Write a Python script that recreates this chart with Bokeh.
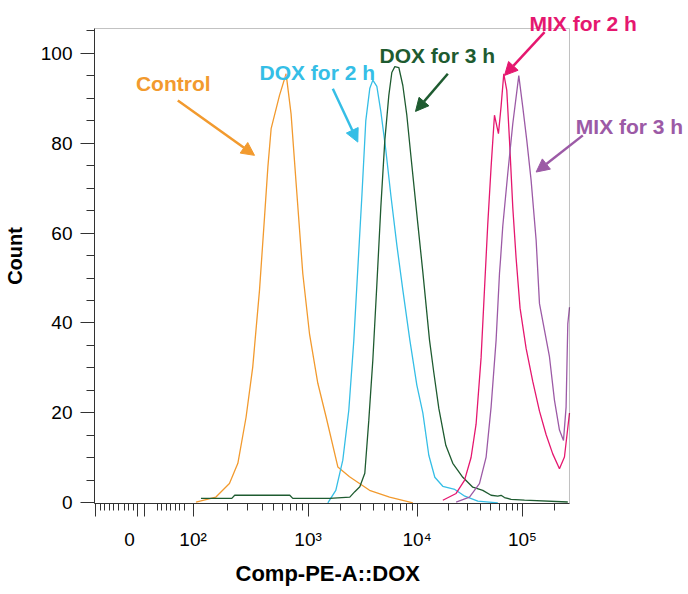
import numpy as np
from bokeh.plotting import figure
from bokeh.models import (Range1d, FixedTicker, CustomJSTickFormatter, Label,
                          Arrow, NormalHead, LinearAxis, BoxAnnotation, Title)
from bokeh.embed import file_html
from bokeh.resources import INLINE

# ---------------- data (fluorescence intensity, count) ----------------
CONTROL_X = [106, 158, 207, 245, 289, 330, 378, 418, 447, 477, 564, 644, 711,
             787, 899, 1030, 1228, 1463, 1874, 2399, 3661, 5590, 9140]
CONTROL_Y = [0.2, 1.3, 4.3, 8.8, 19.1, 30.2, 47.3, 63.6, 74.7, 83.2, 90.6, 95.4,
             86.5, 71.0, 51.0, 37.6, 26.6, 19.1, 8.0, 5.8, 2.8, 1.3, 0.0]

DOX2_X = [1517, 1795, 2081, 2362, 2624, 2856, 3110, 3383, 3683, 3925, 4272, 4648,
          5164, 5741, 6517, 7398, 8576, 9940, 11330, 12910, 14720, 17530, 22800,
          28370, 37700, 58400]
DOX2_Y = [0.0, 2.8, 9.5, 20.6, 36.0, 52.0, 68.0, 85.0, 92.2, 94.0, 92.6, 87.0,
          78.4, 68.4, 57.3, 47.3, 36.2, 26.2, 20.0, 10.6, 5.7, 3.7, 3.0, 1.5, 0.4, 0.0]

DOX3_X = [117, 164, 217, 230, 693, 736, 1581, 2413, 2682, 2981, 3312, 3605, 3923,
          4269, 4645, 5055, 5501, 5861, 6244, 6795, 7394, 8045, 8755, 10150, 11330,
          13110, 14400, 16070, 18720, 21810, 27140, 33770, 42010, 50370, 58310,
          62660, 67480, 77970, 104500, 269000]
DOX3_Y = [1.0, 1.0, 1.0, 1.7, 1.7, 1.0, 1.0, 1.3, 2.5, 3.6, 6.6, 18.4, 31.7,
          48.4, 65.7, 80.6, 90.6, 95.7, 97.0, 96.8, 92.8, 86.2, 77.3, 62.1, 51.3,
          36.2, 29.0, 21.0, 12.8, 8.8, 5.7, 3.5, 2.8, 1.7, 1.5, 1.7, 1.2, 0.8, 0.6, 0.2]

MIX2_X = [17540, 23440, 28160, 32520, 36280, 40480, 43560, 46870, 50370, 54230,
          59150, 62640, 66470, 70990, 75330, 80930, 86970, 94910, 108200, 125200,
          145000, 167400, 193700, 224300, 250100, 279200]
MIX2_Y = [0.6, 2.1, 5.0, 10.1, 17.5, 32.3, 47.3, 62.1, 74.7, 86.2, 82.1, 88.1,
          95.4, 91.7, 80.6, 65.7, 54.5, 43.3, 34.4, 27.0, 20.4, 15.2, 10.9, 7.6,
          10.2, 20.0]

MIX3_X = [23440, 31410, 39060, 45190, 50370, 56210, 60550, 61860, 65020, 72560,
          80930, 92290, 100700, 109900, 120800, 134800, 145000, 161700, 180300,
          201200, 224300, 245000, 259200, 269100, 279200]
MIX3_Y = [0.2, 1.3, 4.3, 10.2, 21.3, 36.2, 51.1, 54.0, 61.5, 73.3, 84.3, 95.0,
          88.0, 80.6, 71.7, 58.4, 44.3, 38.4, 32.5, 22.8, 16.2, 13.9, 21.3, 39.8, 43.5]

SERIES_NAMES = ["Control", "DOX for 2 h", "DOX for 3 h", "MIX for 2 h", "MIX for 3 h"]
X_TICK_LABELS = ["0", "10²", "10³", "10⁴", "10⁵"]
Y_TICKS = [0, 20, 40, 60, 80, 100]
X_TITLE = "Comp-PE-A::DOX"
Y_TITLE = "Count"

# ---------------- axis scale (biexponential-like display) ----------------
DECADE_EXP = [2, 3, 4, 5]
DECADE_POS = [2.0, 3.0, 3.948, 4.864]   # display units of each decade
TOP_SLOPE = 0.917


def to_axis(v):
    lv = np.log10(np.asarray(v, dtype=float))
    pos = np.interp(lv, DECADE_EXP, DECADE_POS)
    hi = lv > 5
    pos[hi] = DECADE_POS[-1] + (lv[hi] - 5) * TOP_SLOPE
    lo = lv < 2
    pos[lo] = DECADE_POS[0] + (lv[lo] - 2)
    return pos


X_START, X_END = 1.1426, 5.273        # plotted box (axis extent)
Y_START, Y_END = -0.13, 105.47
X_VIEW_END, Y_VIEW_END = 6.2904, 109.92   # extra room for the call-outs
ZERO_POS = 1.447
LOW_MAJOR = [1.154, 1.519, 1.577]
LOW_MINOR = [1.195, 1.230, 1.270, 1.310, 1.351, 1.403, 1.438, 1.478,
             1.687, 1.728, 1.769, 1.803, 1.843, 1.884, 1.925]
log_minor = [m * 10 ** n for n in (2, 3, 4) for m in range(2, 10)] + [2e5]
x_major = LOW_MAJOR + DECADE_POS
x_minor = LOW_MINOR + list(to_axis(log_minor))

FONT = "Liberation Sans"
AXIS_COLOR = "#333333"

p = figure(frame_width=592, frame_height=495,
           x_range=Range1d(X_START, X_VIEW_END), y_range=Range1d(Y_START, Y_VIEW_END),
           output_backend="svg", toolbar_location=None,
           min_border_left=84, min_border_top=8, min_border_right=0,
           min_border_bottom=70)
p.grid.visible = False
p.outline_line_color = None
p.background_fill_color = "white"
p.border_fill_color = "white"

# box around the data area
p.add_layout(BoxAnnotation(left=X_START, right=X_END, bottom=Y_START, top=Y_END,
                           fill_color=None, line_color=AXIS_COLOR, line_width=1))

# x axis 1: ticks only
xa = p.xaxis[0]
xa.bounds = (X_START, X_END)
xa.ticker = FixedTicker(ticks=x_major, minor_ticks=x_minor)
xa.formatter = CustomJSTickFormatter(code="return '';")
xa.major_tick_out = 13
xa.major_tick_in = 0
xa.minor_tick_out = 7
xa.minor_tick_in = 0
xa.major_label_standoff = 0
xa.axis_line_color = AXIS_COLOR
xa.major_tick_line_color = AXIS_COLOR
xa.minor_tick_line_color = AXIS_COLOR

# x axis 2: labels only
label_ticks = [ZERO_POS] + DECADE_POS
xl = LinearAxis(
    bounds=(X_START, X_END),
    ticker=FixedTicker(ticks=label_ticks, minor_ticks=[]),
    formatter=CustomJSTickFormatter(
        args=dict(pos=label_ticks, labs=X_TICK_LABELS),
        code="""
for (let i = 0; i < pos.length; i++) {
  if (Math.abs(tick - pos[i]) < 1e-6) { return labs[i]; }
}
return "";
"""),
    axis_line_color=None, major_tick_line_color=None, minor_tick_line_color=None,
    major_tick_out=0, major_tick_in=0, minor_tick_out=0, minor_tick_in=0,
    major_label_text_font=FONT, major_label_text_font_size="19px",
    major_label_text_color="black", major_label_standoff=12)
p.add_layout(xl, "below")

# x title under the box (offset from the left edge of the box)
p.add_layout(Title(text=X_TITLE, align="left", offset=141, text_font=FONT,
                   text_font_size="22px", text_font_style="bold",
                   text_color="black", standoff=12), "below")

# y axis
ya = p.yaxis[0]
ya.bounds = (Y_START, Y_END)
ya.ticker = FixedTicker(ticks=Y_TICKS, minor_ticks=list(range(5, 110, 5)))
ya.major_tick_out = 14
ya.major_tick_in = 0
ya.minor_tick_out = 8
ya.minor_tick_in = 0
ya.axis_line_color = AXIS_COLOR
ya.major_tick_line_color = AXIS_COLOR
ya.minor_tick_line_color = AXIS_COLOR
ya.major_label_text_font = FONT
ya.major_label_text_font_size = "19px"
ya.major_label_text_color = "black"
ya.major_label_standoff = 8
ya.axis_label = Y_TITLE
ya.axis_label_text_font = FONT
ya.axis_label_text_font_size = "20px"
ya.axis_label_text_font_style = "bold"
ya.axis_label_text_color = "black"
ya.axis_label_standoff = 12

COLORS = ["#F29A2E", "#35BEE6", "#1E5B30", "#E5176F", "#9C5AA6"]
SERIES = [(CONTROL_X, CONTROL_Y), (DOX2_X, DOX2_Y), (DOX3_X, DOX3_Y),
          (MIX2_X, MIX2_Y), (MIX3_X, MIX3_Y)]
for (xs, ys), c in zip(SERIES, COLORS):
    p.line(to_axis(xs), ys, line_color=c, line_width=1.3)

# annotation placement (display units): label (x, y), arrow start, arrow end
LABEL_AT = [(1.5026, 93.2), (2.5774, 95.78), (3.6209, 99.49), (4.9252, 106.6),
            (5.3278, 83.71)]
ARROWS = [((1.867, 89.49), (2.534, 77.27)),
          ((3.215, 92.09), (3.432, 80.22)),
          ((4.215, 95.42), (3.934, 87.04)),
          ((5.056, 104.67), (4.708, 95.04)),
          ((5.389, 81.71), (4.983, 73.56))]

for name, c, (lx, ly), ((x0, y0), (x1, y1)) in zip(SERIES_NAMES, COLORS, LABEL_AT, ARROWS):
    p.add_layout(Label(x=lx, y=ly, text=name, text_font=FONT,
                       text_font_size="21px", text_font_style="bold",
                       text_color=c, text_align="left",
                       text_baseline="alphabetic"))
    p.add_layout(Arrow(x_start=x0, y_start=y0, x_end=x1, y_end=y1,
                       line_color=c, line_width=2.5,
                       end=NormalHead(size=13, fill_color=c, line_color=c,
                                      line_width=1)))

open("out.html", "w").write(file_html(p, INLINE))
